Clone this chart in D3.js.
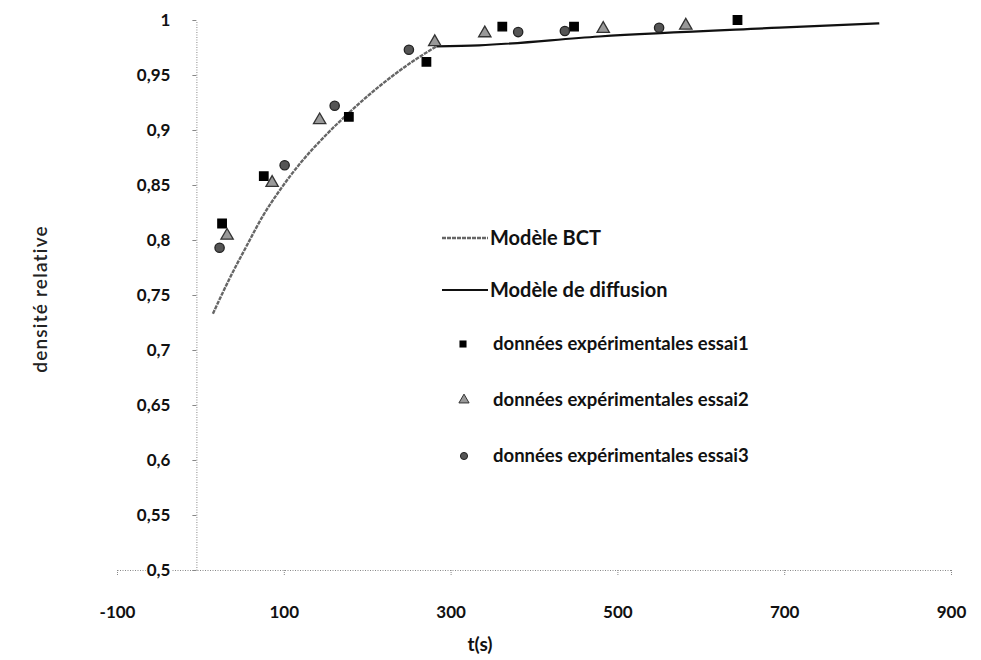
<!DOCTYPE html>
<html><head><meta charset="utf-8">
<script src="https://cdn.jsdelivr.net/npm/d3@7"></script>
<style>
html,body{margin:0;padding:0;background:#fff;}
svg text{font-family:Lato,"Open Sans",sans-serif;}
</style></head>
<body><svg id="c" width="981" height="660"></svg>
<script>
// ---- data ----
const bctT = [15, 35, 55, 75, 95, 120, 150, 180, 215, 250, 283];
const bctY = [0.733, 0.765, 0.794, 0.822, 0.845, 0.870, 0.895, 0.917, 0.940, 0.960, 0.976];
const diffT = [283, 334, 478, 694, 814];
const diffY = [0.976, 0.977, 0.985, 0.993, 0.997];
const essai1T = [26, 76, 178, 271, 362, 448, 644];
const essai1Y = [0.815, 0.858, 0.912, 0.962, 0.994, 0.994, 1.0];
const essai2T = [32, 86, 143, 281, 341, 483, 582];
const essai2Y = [0.804, 0.852, 0.909, 0.980, 0.988, 0.992, 0.995];
const essai3T = [23, 101, 161, 250, 381, 437, 550];
const essai3Y = [0.793, 0.868, 0.922, 0.973, 0.989, 0.990, 0.993];
const xTicks = [-100, 100, 300, 500, 700, 900];
const xTickLabels = ["-100", "100", "300", "500", "700", "900"];
const yTicks = [0.5, 0.55, 0.6, 0.65, 0.7, 0.75, 0.8, 0.85, 0.9, 0.95, 1];
const legendLabels = ["Modèle BCT", "Modèle de diffusion",
  "données expérimentales essai1", "données expérimentales essai2", "données expérimentales essai3"];
const xTitle = "t(s)";
const yTitle = "densité relative";

// ---- chart ----
const svg = d3.select("#c");
const x = d3.scaleLinear().domain([-100, 900]).range([117, 951]);
const y = d3.scaleLinear().domain([0.5, 1]).range([570, 20]);
const loc = d3.formatLocale({decimal: ",", thousands: " ", grouping: [3], currency: ["", ""]});
const yFmt = loc.format(".2~f");

// x axis
const gx = svg.append("g").attr("transform", `translate(0,${y(0.5)})`)
  .call(d3.axisBottom(x).tickValues(xTicks).tickFormat((d, i) => xTickLabels[i])
    .tickSize(6).tickPadding(30).tickSizeOuter(0));
gx.select(".domain").attr("stroke", "#888").attr("stroke-dasharray", "1,1.5");
gx.selectAll(".tick line").attr("stroke", "#888").attr("stroke-dasharray", "1,1");
gx.selectAll("text").attr("font-size", 17).attr("font-weight", "bold").attr("fill", "#111");

// y axis at x=0
const gy = svg.append("g").attr("transform", `translate(${x(0) - 4},0)`)
  .call(d3.axisLeft(y).tickValues(yTicks).tickFormat(yFmt).tickSize(4).tickPadding(22).tickSizeOuter(0));
gy.select(".domain").attr("stroke", "#888").attr("stroke-dasharray", "1,1.5");
gy.selectAll(".tick line").attr("stroke", "#888");
gy.selectAll("text").attr("font-size", 17).attr("font-weight", "bold").attr("fill", "#111");
gy.selectAll(".tick").filter(d => d === 0.5).each(function(){
  const t = d3.select(this).select("text").node(); const b = t.getBBox();
  d3.select(this).insert("rect", "text").attr("x", b.x - 1).attr("y", b.y + 4)
    .attr("width", b.width + 2).attr("height", b.height - 6).attr("fill", "#fff");
});

// titles
svg.append("text").attr("x", 480).attr("y", 651).attr("text-anchor", "middle")
  .attr("font-size", 19).attr("font-weight", "bold").attr("fill", "#111").text(xTitle);
svg.append("text").attr("transform", "translate(47,299) rotate(-90)").attr("text-anchor", "middle")
  .attr("font-size", 19).attr("font-weight", 600).attr("fill", "#222").attr("letter-spacing", "1.2")
  .text(yTitle);

// lines
const line = d3.line().x(d => x(d[0])).y(d => y(d[1])).curve(d3.curveMonotoneX);
svg.append("path").datum(bctT.map((t, i) => [t, bctY[i]])).attr("d", line)
  .attr("fill", "none").attr("stroke", "#666").attr("stroke-width", 2.4).attr("stroke-dasharray", "4,1");
svg.append("path").datum(diffT.map((t, i) => [t, diffY[i]])).attr("d", line)
  .attr("fill", "none").attr("stroke", "#111").attr("stroke-width", 2.2);

// markers
const sq = d3.symbol().type(d3.symbolSquare).size(72);
const tri = d3.symbol().type(d3.symbolTriangle).size(66);
const cir = d3.symbol().type(d3.symbolCircle).size(68);
function pts(T, Y, sym, fill, stroke) {
  svg.append("g").selectAll("path").data(T.map((t, i) => [t, Y[i]])).join("path")
    .attr("transform", d => `translate(${x(d[0])},${y(d[1])})`).attr("d", sym)
    .attr("fill", fill).attr("stroke", stroke).attr("stroke-width", 1.3);
}
pts(essai1T, essai1Y, sq, "#000", "#000");
pts(essai2T, essai2Y, tri, "#999", "#333");
pts(essai3T, essai3Y, cir, "#555", "#222");

// legend
const lg = svg.append("g");
const ly = [238, 290, 344, 400, 456];
lg.append("line").attr("x1", 442).attr("x2", 488).attr("y1", ly[0]).attr("y2", ly[0])
  .attr("stroke", "#666").attr("stroke-width", 2.4).attr("stroke-dasharray", "4,1");
lg.append("line").attr("x1", 442).attr("x2", 488).attr("y1", ly[1]).attr("y2", ly[1])
  .attr("stroke", "#111").attr("stroke-width", 2.2);
lg.append("path").attr("transform", `translate(463,${ly[2]})`).attr("d", d3.symbol().type(d3.symbolSquare).size(50)).attr("fill", "#000");
lg.append("path").attr("transform", `translate(464,${ly[3]})`).attr("d", d3.symbol().type(d3.symbolTriangle).size(45)).attr("fill", "#999").attr("stroke", "#333");
lg.append("path").attr("transform", `translate(464,${ly[4]})`).attr("d", d3.symbol().type(d3.symbolCircle).size(40)).attr("fill", "#555").attr("stroke", "#222");
legendLabels.forEach((s, i) => {
  lg.append("text").attr("x", i < 2 ? 490 : 493).attr("y", ly[i]).attr("dy", "0.35em")
    .attr("font-size", i < 2 ? 20 : 18.5).attr("font-weight", "bold").attr("fill", "#111").text(s);
});
</script></body></html>
